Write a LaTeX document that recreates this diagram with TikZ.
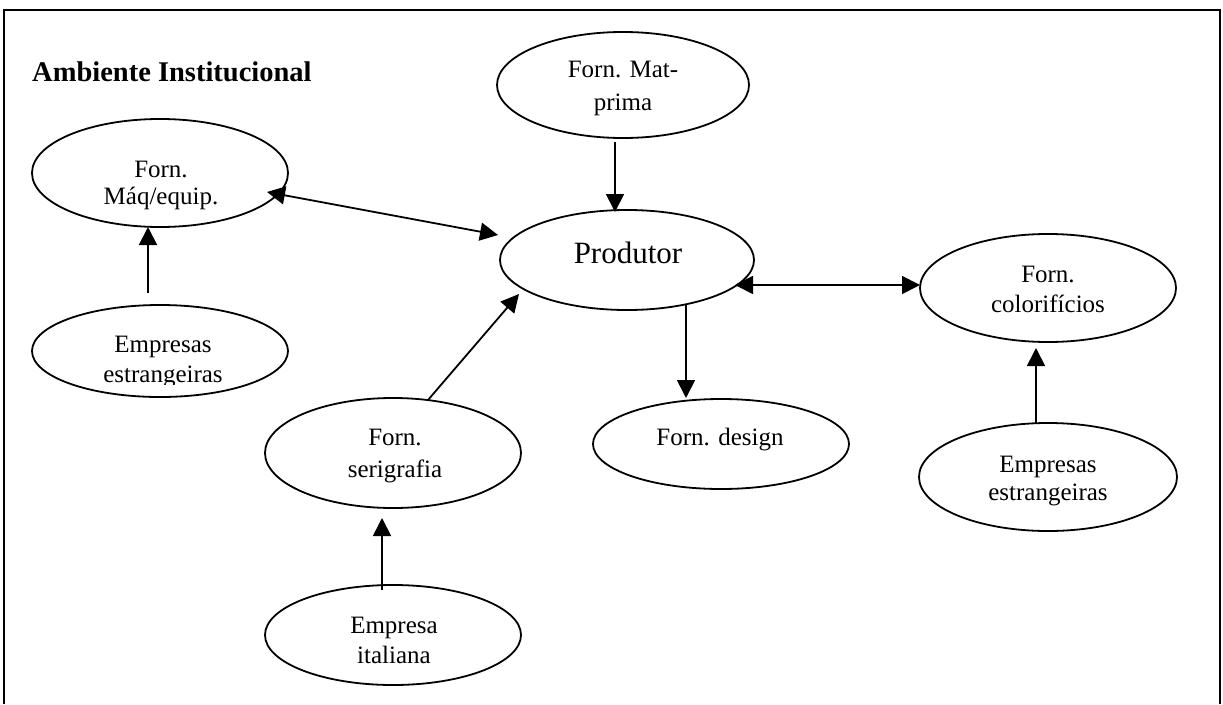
\documentclass[tikz,border=0pt]{standalone}
\usepackage{fontspec}
\setmainfont{Liberation Serif}
\usetikzlibrary{arrows.meta,shapes.geometric}
\begin{document}
\begin{tikzpicture}[x=1pt,y=-1pt,
  ell/.style={draw, ellipse, line width=1.8pt, inner sep=0pt},
  lbl/.style={anchor=base, inner sep=0pt, font=\fontsize{25}{28}\selectfont},
  big/.style={anchor=base, inner sep=0pt, font=\fontsize{31}{36}\selectfont},
  tip/.tip={Triangle[length=18pt,width=18pt]},
  conn/.style={line width=1.8pt, -tip},
  bconn/.style={line width=1.8pt, tip-tip}]
\useasboundingbox (0,0) rectangle (1223,704);
\draw[line width=1.8pt] (4,704) -- (4,10) -- (1220,10) -- (1220,704);

\node[anchor=base west, inner sep=0pt, font=\fontsize{28.5}{32}\selectfont\bfseries] (title) at (32,81) {Ambiente Institucional};

% ellipses
\node[ell, minimum width=252pt, minimum height=106pt] (mat) at (623,85) {};
\node[ell, minimum width=256pt, minimum height=108pt] (maq) at (160,173) {};
\node[ell, minimum width=254pt, minimum height=100pt] (prod) at (627,260) {};
\node[ell, minimum width=256pt, minimum height=108pt] (col) at (1048,288) {};
\node[ell, minimum width=256pt, minimum height=92pt] (empL) at (160,351) {};
\node[ell, minimum width=258pt, minimum height=108pt] (empR) at (1048,477) {};
\node[ell, minimum width=256pt, minimum height=90pt] (design) at (721,444) {};
\node[ell, minimum width=256pt, minimum height=110pt] (ser) at (393,453) {};
\node[ell, minimum width=256pt, minimum height=100pt] (ital) at (393,635) {};

% labels
\node[lbl] (matA) at (623,77) {Forn. Mat-};
\node[lbl] (matB) at (623,110) {prima};
\node[lbl] (maqA) at (161,177) {Forn.};
\node[lbl] (maqB) at (161,204) {Máq/equip.};
\node[big] (prodA) at (628,263) {Produtor};
\node[lbl] (colA) at (1048,282) {Forn.};
\node[lbl] (colB) at (1048,312) {colorifícios};
\node[lbl] (empRA) at (1048,472) {Empresas};
\node[lbl] (empRB) at (1048,500) {estrangeiras};
\node[lbl] (empLA) at (163,352) {Empresas};
\begin{scope}
  \clip (0,0) rectangle (1223,384);
  \node[lbl] (empLB) at (163,382) {estrangeiras};
\end{scope}
\node[lbl] (designA) at (720,445) {Forn. design};
\node[lbl] (serA) at (395,445) {Forn.};
\node[lbl] (serB) at (395,477) {serigrafia};
\node[lbl] (italA) at (394,633) {Empresa};
\node[lbl] (italB) at (394,663) {italiana};

% connectors
\draw[conn] ([shift={(-8,57)}]mat.center) -- ([shift={(-12,-48)}]prod.center);
\draw[bconn] ([shift={(107,19)}]maq.center) -- ([shift={(-129,-25)}]prod.center);
\draw[bconn] ([shift={(108,25)}]prod.center) -- ([shift={(-128,-3)}]col.center);
\draw[conn] ([shift={(59,45)}]prod.center) -- ([shift={(-35,-46)}]design.center);
\draw[conn] ([shift={(35,-53)}]ser.center) -- ([shift={(-108,34)}]prod.center);
\draw[conn] ([shift={(-11,-45)}]ital.center) -- ([shift={(-11,65)}]ser.center);
\draw[conn] ([shift={(-12,-58)}]empL.center) -- ([shift={(-12,54)}]maq.center);
\draw[conn] ([shift={(-12,-54)}]empR.center) -- ([shift={(-12,60)}]col.center);
\end{tikzpicture}
\end{document}
